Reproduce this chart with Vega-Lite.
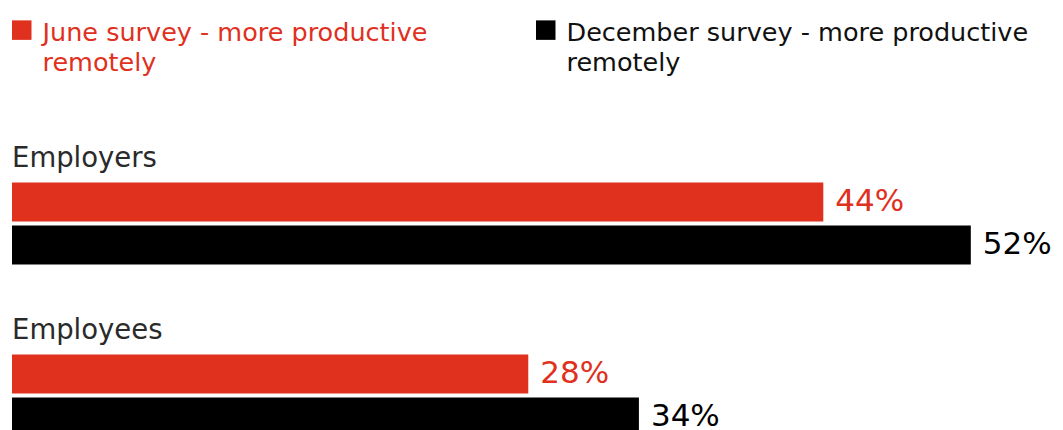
{
  "$schema": "https://vega.github.io/schema/vega-lite/v6.json",
  "width": 1051,
  "height": 297,
  "autosize": {"type": "none"},
  "padding": {"left": 12, "top": 139.5, "right": 0, "bottom": 0},
  "background": "white",
  "config": {"view": {"stroke": null}, "font": "DejaVu Sans"},
  "datasets": {
    "bars": [
      {"row": "Employers|June", "survey": "June survey - more productive remotely", "value": 44, "label": "44%"},
      {"row": "Employers|December", "survey": "December survey - more productive remotely", "value": 52, "label": "52%"},
      {"row": "Employees|June", "survey": "June survey - more productive remotely", "value": 28, "label": "28%"},
      {"row": "Employees|December", "survey": "December survey - more productive remotely", "value": 34, "label": "34%"}
    ],
    "headers": [
      {"row": "Employers", "name": "Employers", "start": 0},
      {"row": "Employees", "name": "Employees", "start": 0}
    ]
  },
  "resolve": {"scale": {"color": "shared"}},
  "layer": [
    {
      "data": {"name": "bars"},
      "mark": {"type": "bar"},
      "encoding": {
        "y": {"field": "row", "type": "nominal", "axis": null,
          "scale": {"domain": ["Employers", "Employers|June", "Employers|December", "gap", "Employees", "Employees|June", "Employees|December"], "paddingInner": 0.09, "paddingOuter": 0}},
        "x": {"field": "value", "type": "quantitative", "axis": null, "scale": {"domain": [0, 57], "nice": false}},
        "color": {"field": "survey", "type": "nominal",
          "scale": {"domain": ["June survey - more productive remotely", "December survey - more productive remotely"], "range": ["#e0301e", "#000000"]},
          "legend": {
            "title": null, "orient": "none", "legendX": -3, "legendY": -122.5,
            "direction": "horizontal", "symbolType": "square", "symbolSize": 380,
            "symbolStrokeWidth": 0, "symbolOpacity": 1, "labelFontSize": 25.5, "labelFont": "DejaVu Sans",
            "labelLimit": 500, "labelOffset": 8, "columnPadding": 105, "labelBaseline": "top",
            "labelExpr": "datum.label === 'June survey - more productive remotely' ? ['June survey - more productive', 'remotely'] : ['December survey - more productive', 'remotely']",
            "encode": {
              "labels": {"update": {
                "fill": {"signal": "datum.label === 'June survey - more productive remotely' ? '#e0301e' : '#111111'"},
                "lineHeight": {"value": 30},
                "dy": {"value": -9}
              }}
            }
          }
        }
      }
    },
    {
      "data": {"name": "bars"},
      "mark": {"type": "text", "align": "left", "baseline": "middle", "dx": 12, "fontSize": 31, "font": "DejaVu Sans"},
      "encoding": {
        "y": {"field": "row", "type": "nominal"},
        "x": {"field": "value", "type": "quantitative"},
        "text": {"field": "label"},
        "color": {"field": "survey", "type": "nominal", "legend": null}
      }
    },
    {
      "data": {"name": "headers"},
      "mark": {"type": "text", "align": "left", "baseline": "middle", "fontSize": 27.5, "font": "DejaVu Sans", "color": "#2a2a2a"},
      "encoding": {
        "y": {"field": "row", "type": "nominal"},
        "x": {"field": "start", "type": "quantitative"},
        "text": {"field": "name"}
      }
    }
  ]
}
